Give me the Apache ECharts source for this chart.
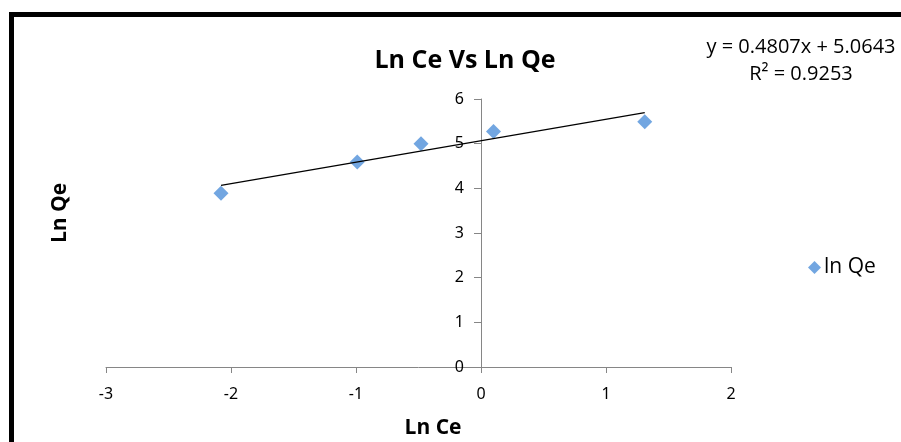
<!DOCTYPE html>
<html>
<head>
<meta charset="utf-8">
<script src="https://cdn.jsdelivr.net/npm/echarts@6/dist/echarts.min.js"></script>
<style>
  html, body { margin: 0; padding: 0; background: #fff; }
  #chart { width: 901px; height: 442px; }
</style>
</head>
<body>
<div id="chart"></div>
<script>
// ln Ce vs ln Qe measurements
const lnCe = [-2.08, -0.99, -0.48, 0.10, 1.31];
const lnQe = [3.89, 4.59, 5.00, 5.27, 5.49];

// linear trendline as reported
const slope = 0.4807;
const intercept = 5.0643;
const rSquared = 0.9253;

const xTicks = [-3, -2, -1, 0, 1, 2];
const yTicks = [0, 1, 2, 3, 4, 5, 6];

const points = lnCe.map((x, i) => [x, lnQe[i]]);
const xMin = Math.min(...lnCe), xMax = Math.max(...lnCe);
const trend = [[xMin, slope * xMin + intercept], [xMax, slope * xMax + intercept]];

const W = 901;
const gridLeft = 106, gridRight = 170;
const plotWidth = W - gridLeft - gridRight;
// shift the value axis so that it crosses the horizontal axis at x = 0
const xLo = xTicks[0], xHi = xTicks[xTicks.length - 1];
const yAxisOffset = -((0 - xLo) / (xHi - xLo)) * plotWidth;

const chart = echarts.init(document.getElementById('chart'), null, { renderer: 'canvas' });
const axisGray = '#868686';
const sansFont = '"Open Sans", "Noto Sans", sans-serif';
const tickFont = '"Noto Sans", "Open Sans", sans-serif';

chart.setOption({
  animation: false,
  backgroundColor: '#fff',
  title: {
    text: 'Ln Ce Vs Ln Qe',
    left: 460, top: 43, textAlign: 'center',
    textStyle: { fontFamily: sansFont, fontWeight: 'bold', fontSize: 25, color: '#000' }
  },
  grid: { left: gridLeft, right: gridRight, top: 99, bottom: 75, containLabel: false },
  xAxis: {
    type: 'value',
    min: xLo, max: xHi, interval: 1,
    splitLine: { show: false },
    axisLine: { onZero: false, lineStyle: { color: axisGray, width: 1 } },
    axisTick: { length: 6, lineStyle: { color: axisGray } },
    axisLabel: { color: '#000', fontFamily: tickFont, fontSize: 16, margin: 19 }
  },
  yAxis: {
    type: 'value',
    min: yTicks[0], max: yTicks[yTicks.length - 1], interval: 1,
    offset: yAxisOffset,
    splitLine: { show: false },
    axisLine: { onZero: false, lineStyle: { color: axisGray, width: 1 } },
    axisTick: { length: 7, lineStyle: { color: axisGray } },
    axisLabel: { color: '#000', fontFamily: tickFont, fontSize: 16, margin: 17 }
  },
  legend: {
    data: ['ln Qe'],
    left: 803, top: 252, orient: 'vertical',
    itemWidth: 13, itemHeight: 13, itemGap: 4,
    icon: 'diamond',
    textStyle: { fontFamily: sansFont, fontSize: 21, color: '#000', padding: [0, 0, 0, -2] }
  },
  graphic: [
    {
      type: 'text', x: 60, y: 213,
      rotation: Math.PI / 2,
      style: {
        text: 'Ln Qe', fontFamily: sansFont, fontWeight: 'bold', fontSize: 21, fill: '#000',
        textAlign: 'center', textVerticalAlign: 'middle'
      }
    },
    {
      type: 'text', x: 433, y: 428,
      style: {
        text: 'Ln Ce', fontFamily: sansFont, fontWeight: 'bold', fontSize: 21, fill: '#000',
        textAlign: 'center', textVerticalAlign: 'middle'
      }
    },
    {
      type: 'text', x: 801, y: 47,
      style: {
        text: 'y = ' + slope.toFixed(4) + 'x + ' + intercept.toFixed(4),
        fontFamily: sansFont, fontSize: 20, fill: '#000',
        textAlign: 'center', textVerticalAlign: 'middle'
      }
    },
    {
      type: 'text', x: 801, y: 74,
      style: {
        text: 'R² = ' + rSquared.toFixed(4),
        fontFamily: sansFont, fontSize: 20, fill: '#000',
        textAlign: 'center', textVerticalAlign: 'middle'
      }
    },
    {
      type: 'rect', shape: { x: 11.5, y: 14.5, width: 1000, height: 1000 },
      style: { fill: 'none', stroke: '#000', lineWidth: 5 }, z: 100
    }
  ],
  series: [
    {
      name: 'trend', type: 'line', data: trend,
      symbol: 'none', lineStyle: { color: '#000', width: 1.2 }, z: 3
    },
    {
      name: 'ln Qe', type: 'scatter', data: points,
      symbol: 'diamond', symbolSize: 15,
      itemStyle: { color: '#4F90D9' }, z: 2
    }
  ]
});
</script>
</body>
</html>
